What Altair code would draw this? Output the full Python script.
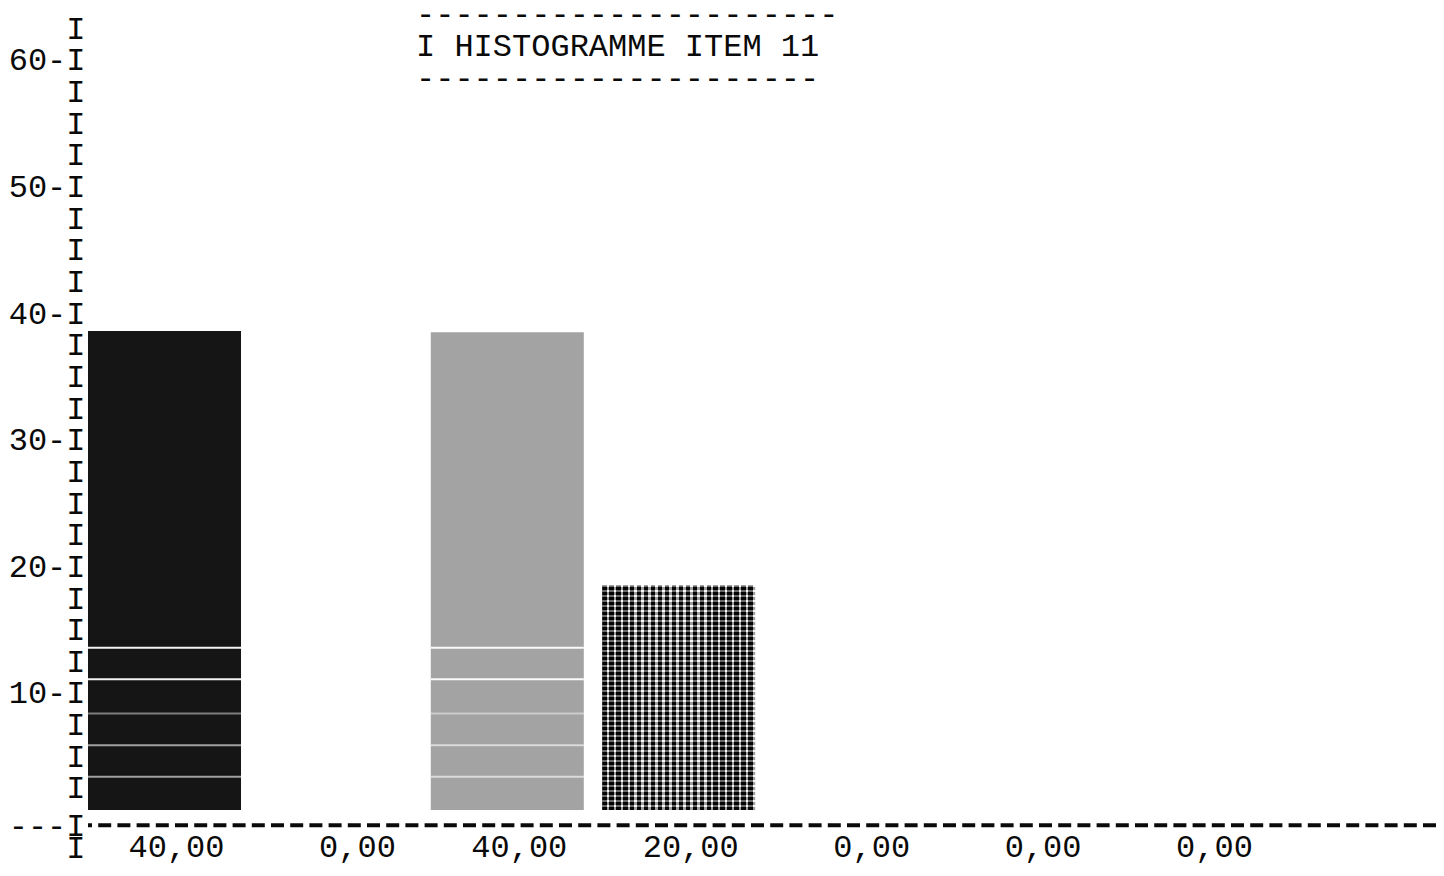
import altair as alt
import pandas as pd

# ---- values -----------------------------------------------------------
modalites = ["1", "2", "3", "4", "5", "6", "7"]
pourcentages = [40.0, 0.0, 40.0, 20.0, 0.0, 0.0, 0.0]      # printed under each column
hauteurs = [38.6, 0.0, 38.5, 18.5, 0.0, 0.0, 0.0]          # bar tops on the printed scale
pied_barres = 0.76                                         # bar bottoms on the printed scale
y_tick_labels = [60, 50, 40, 30, 20, 10]
titre = "I HISTOGRAMME ITEM 11"
ligne_base = -0.45       # row of the dashed base line "---I-----"
ligne_labels = -2.2      # row of the percentage labels
# light streaks of the print inside the solid bars
stries_niveaux = [13.5, 11.0, 8.3, 5.8, 3.3]
stries_force = [0.95, 0.95, 0.45, 0.6, 0.6]

FONT = "Liberation Mono"
FS = 32
INK = "#0a0a0a"

df = pd.DataFrame({
    "modalite": modalites,
    "pct": pourcentages,
    "haut": hauteurs,
    "bas": [pied_barres] * len(modalites),
    "label": [f"{p:.2f}".replace(".", ",") for p in pourcentages],
    "ligne": [ligne_labels] * len(modalites),
})

stries = pd.DataFrame([
    {"modalite": m, "niv": lv, "force": f}
    for m in ["1", "3"]
    for lv, f in zip(stries_niveaux, stries_force)
])

# axis rows of the typewriter scale: one "I" every 2.5 units
rows = [62.5 - 2.5 * k for k in range(25)] + [ligne_base, ligne_labels]
label_expr = (
    f"datum.value == {ligne_base} ? '---I' : "
    "(datum.value >= 10 && datum.value % 10 == 0 ? datum.value + '-I' : 'I')"
)

yscale = alt.Scale(domain=[-3.823, 64.107], nice=False, zero=False)
xscale = alt.Scale(domain=modalites, paddingInner=0.1073, paddingOuter=0.486, align=0)

yaxis = alt.Axis(
    values=rows, labelExpr=label_expr, domain=False, ticks=False, grid=False,
    labelFont=FONT, labelFontSize=FS, labelFontWeight="normal", labelColor=INK,
    labelPadding=3, labelOverlap=False, labelFlush=False, labelBound=False,
    title=None,
)


def Y(field):
    return alt.Y(field, type="quantitative", scale=yscale, axis=yaxis, title=None)


X = alt.X("modalite:N", scale=xscale, axis=None, sort=modalites)

base = alt.Chart(df).encode(x=X, y=Y("haut"), y2="bas")

bar_dark = base.transform_filter("datum.modalite == '1'").mark_bar(fill="#151515")
bar_gray = base.transform_filter("datum.modalite == '3'").mark_bar(fill="#a3a3a3")

# checker-like texture for the third bar
P = 22
stops_v = []
for k in range(P):
    stops_v += [
        {"offset": k / P, "color": "#080808"},
        {"offset": (k + 0.64) / P, "color": "#080808"},
        {"offset": (k + 0.64) / P, "color": "#f2f2f2"},
        {"offset": (k + 1) / P, "color": "#f2f2f2"},
    ]
P2 = 45
stops_h = []
for k in range(P2):
    stops_h += [
        {"offset": k / P2, "color": "rgba(255,255,255,0.4)"},
        {"offset": (k + 0.38) / P2, "color": "rgba(255,255,255,0.4)"},
        {"offset": (k + 0.38) / P2, "color": "rgba(0,0,0,0.35)"},
        {"offset": (k + 1) / P2, "color": "rgba(0,0,0,0.35)"},
    ]
bar_check = base.transform_filter("datum.modalite == '4'").mark_bar(
    fill={"gradient": "linear", "x1": 0, "y1": 0, "x2": 1, "y2": 0, "stops": stops_v}
)
bar_check2 = base.transform_filter("datum.modalite == '4'").mark_bar(
    fill={"gradient": "linear", "x1": 0, "y1": 0, "x2": 0, "y2": 1, "stops": stops_h}
)

streaks = alt.Chart(stries).transform_calculate(
    niv2="datum.niv + 0.16"
).mark_bar(fill="white").encode(
    x=X, y=Y("niv"), y2="niv2:Q",
    opacity=alt.Opacity("force:Q", scale=None, legend=None),
)

baseline = alt.Chart(pd.DataFrame({"row": [ligne_base]})).mark_rule(
    stroke=INK, strokeWidth=4, strokeDash=[13, 6.2]
).encode(y=Y("row"))

labels = alt.Chart(df).mark_text(
    font=FONT, fontSize=FS, fontWeight="normal", color=INK,
    align="right", baseline="middle", dx=60,
).encode(x=X, y=Y("ligne"), text="label:N")

chart = alt.layer(
    bar_dark, bar_gray, bar_check, bar_check2, streaks, baseline, labels
).properties(
    width=1348,
    height=860,
    background="white",
    autosize=alt.AutoSizeParams(type="none"),
    padding={"left": 80, "right": 0, "top": 0, "bottom": 0},
    title=alt.TitleParams(
        text=["-" * 22, titre, "-" * 21],
        anchor="start", frame="group", orient="top",
        offset=0, dx=328, dy=102, baseline="middle",
        font=FONT, fontSize=FS, fontWeight="normal", color=INK, lineHeight=32,
    ),
).configure_view(strokeWidth=0, stroke="transparent")

chart.save("out.html", embed_options={"renderer": "svg", "actions": False})
